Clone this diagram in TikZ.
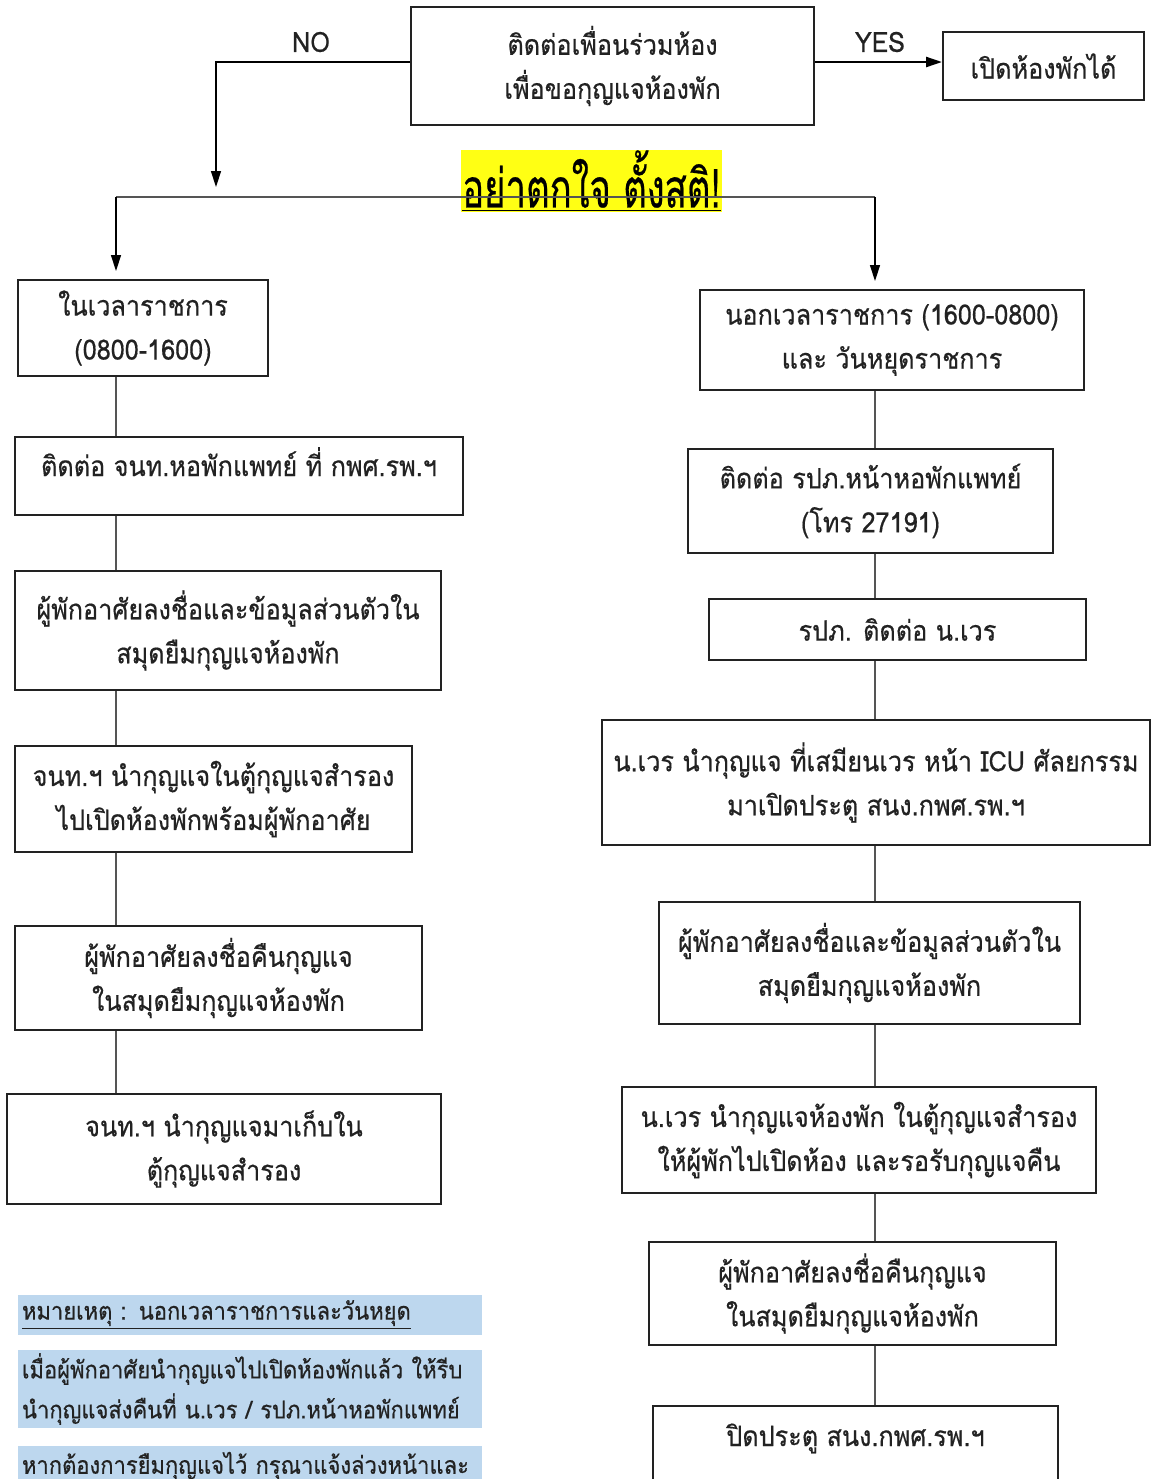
\documentclass[tikz,border=0pt]{standalone}
\usepackage{fontspec}
\setmainfont[Script=Thai,FakeStretch=0.9,FakeBold=0.5]{Loma}
\usetikzlibrary{arrows.meta}
\definecolor{KeyInk}{HTML}{222222}
\definecolor{KeyLine}{HTML}{555555}
\definecolor{KeyNote}{HTML}{BDD7EE}
\definecolor{KeyMark}{HTML}{FFFF14}

\begin{document}
\begin{tikzpicture}[
        x=0.5pt,y=-0.5pt,
        every node/.style={font=\fontsize{14}{22}\selectfont,text=KeyInk},
        box/.style={draw=KeyInk,line width=1pt,align=center,inner sep=0pt},
        note/.style={fill=KeyNote,align=left,text width=228pt,inner xsep=2pt,inner ysep=0pt,minimum height=#1,font=\fontsize{12.2}{20}\selectfont},
        link/.style={draw=KeyLine,line width=0.7pt},
        arrow/.style={-{Triangle[length=8pt,width=5pt]},draw=black,line width=0.7pt}
      ]
      \useasboundingbox (0,0) rectangle (1151,1479);
      \node[box,minimum width=201.5pt,minimum height=59pt] (ask) at (612.5,66) {ติดต่อเพื่อนร่วมห้อง\\เพื่อขอกุญแจห้องพัก};
      \node[box,minimum width=100.5pt,minimum height=34pt] (open) at (1043.5,66) {เปิดห้องพักได้};
      \node (no) at (311,42) {NO};
      \node (yes) at (880,42) {YES};
      \node[fill=KeyMark,minimum width=130.5pt,minimum height=31pt,inner sep=0pt,text=black,font=\fontsize{27}{30}\selectfont] (panic) at (591.5,181) {\scalebox{0.75}[1]{\underline{อย่าตกใจ ตั้งสติ!}}};

      \node[box,minimum width=125pt,minimum height=48pt] (office) at (143,328) {ในเวลาราชการ\\(0800-1600)};
      \node[box,minimum width=224pt,text height=19.5pt,text depth=19.5pt] (contact) at (239,476) {ติดต่อ จนท.หอพักแพทย์ ที่ กพศ.รพ.ฯ};
      \node[box,minimum width=213pt,minimum height=59.5pt] (signin) at (228,630.5) {ผู้พักอาศัยลงชื่อและข้อมูลส่วนตัวใน\\สมุดยืมกุญแจห้องพัก};
      \node[box,minimum width=198.5pt,minimum height=53pt] (unlock) at (213.5,799) {จนท.ฯ นำกุญแจในตู้กุญแจสำรอง\\ไปเปิดห้องพักพร้อมผู้พักอาศัย};
      \node[box,minimum width=203.5pt,minimum height=52pt] (signback) at (218.5,978) {ผู้พักอาศัยลงชื่อคืนกุญแจ\\ในสมุดยืมกุญแจห้องพัก};
      \node[box,minimum width=217pt,minimum height=55pt] (store) at (224,1149) {จนท.ฯ นำกุญแจมาเก็บใน\\ตู้กุญแจสำรอง};

      \node[box,minimum width=192pt,minimum height=50pt] (offhours) at (892,340) {นอกเวลาราชการ (1600-0800)\\และ วันหยุดราชการ};
      \node[box,minimum width=182.5pt,minimum height=52pt] (guard) at (870.5,501) {ติดต่อ รปภ.หน้าหอพักแพทย์\\(โทร 27191)};
      \node[box,minimum width=188.5pt,minimum height=30.5pt] (callduty) at (897.5,629.5) {รปภ. ติดต่อ น.เวร};
      \node[box,minimum width=274pt,minimum height=62.5pt] (fetch) at (876,782.5) {น.เวร นำกุญแจ ที่เสมียนเวร หน้า ICU ศัลยกรรม\\มาเปิดประตู สนง.กพศ.รพ.ฯ};
      \node[box,minimum width=210.5pt,minimum height=61pt] (signinr) at (869.5,963) {ผู้พักอาศัยลงชื่อและข้อมูลส่วนตัวใน\\สมุดยืมกุญแจห้องพัก};
      \node[box,minimum width=237pt,minimum height=53pt] (handkey) at (859,1140) {น.เวร นำกุญแจห้องพัก ในตู้กุญแจสำรอง\\ให้ผู้พักไปเปิดห้อง และรอรับกุญแจคืน};
      \node[box,minimum width=203.5pt,minimum height=51.5pt] (signbackr) at (852.5,1293.5) {ผู้พักอาศัยลงชื่อคืนกุญแจ\\ในสมุดยืมกุญแจห้องพัก};
      \node[box,minimum width=202.5pt,text height=20pt,text depth=40pt] (close) at (855.5,1466) {ปิดประตู สนง.กพศ.รพ.ฯ};

      \node[note=20pt] (notehead) at (250,1315) {\underline{หมายเหตุ : นอกเวลาราชการและวันหยุด}};
      \node[note=39pt] (notereturn) at (250,1389) {เมื่อผู้พักอาศัยนำกุญแจไปเปิดห้องพักแล้ว ให้รีบ\\นำกุญแจส่งคืนที่ น.เวร / รปภ.หน้าหอพักแพทย์};
      \node[note=20pt] (notekeep) at (250,1466) {หากต้องการยืมกุญแจไว้ กรุณาแจ้งล่วงหน้าและ};

      \coordinate (row) at (0,62);
      \coordinate (noend) at (216,187);
      \coordinate (colL) at (116,197);
      \coordinate (colR) at (875,197);
      \draw[arrow,line width=1.2pt] (ask.east |- row) -- (open.west |- row);
      \draw[arrow] (ask.west |- row) -| (noend);
      \draw[link] (colL) -- (colR);
      \draw[arrow,shorten >=4pt] (colL) -- (colL |- office.north);
      \draw[arrow,shorten >=4pt] (colR) -- (colR |- offhours.north);

      \draw[link] (office.south -| colL) -- (contact.north -| colL);
      \draw[link] (contact.south -| colL) -- (signin.north -| colL);
      \draw[link] (signin.south -| colL) -- (unlock.north -| colL);
      \draw[link] (unlock.south -| colL) -- (signback.north -| colL);
      \draw[link] (signback.south -| colL) -- (store.north -| colL);

      \draw[link] (offhours.south -| colR) -- (guard.north -| colR);
      \draw[link] (guard.south -| colR) -- (callduty.north -| colR);
      \draw[link] (callduty.south -| colR) -- (fetch.north -| colR);
      \draw[link] (fetch.south -| colR) -- (signinr.north -| colR);
      \draw[link] (signinr.south -| colR) -- (handkey.north -| colR);
      \draw[link] (handkey.south -| colR) -- (signbackr.north -| colR);
      \draw[link] (signbackr.south -| colR) -- (close.north -| colR);
    \end{tikzpicture}
\end{document}
